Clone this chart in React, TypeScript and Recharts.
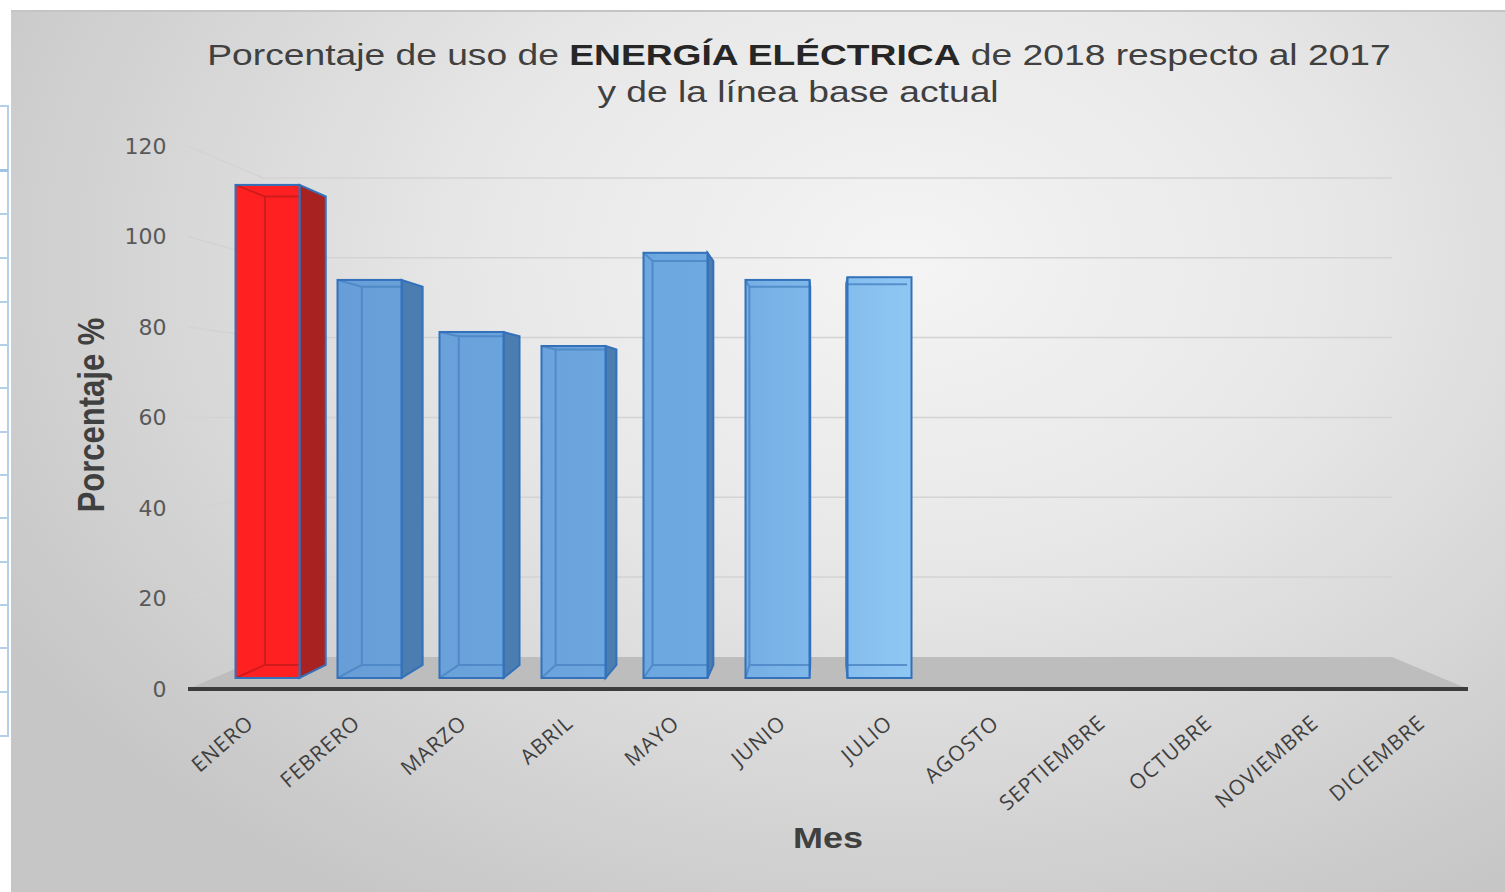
import React from "react";
import { BarChart, Bar, XAxis, YAxis, CartesianGrid, Cell } from "recharts";

const meses = [
  "ENERO",
  "FEBRERO",
  "MARZO",
  "ABRIL",
  "MAYO",
  "JUNIO",
  "JULIO",
  "AGOSTO",
  "SEPTIEMBRE",
  "OCTUBRE",
  "NOVIEMBRE",
  "DICIEMBRE",
];
const porcentaje = [111.4, 90.4, 78.9, 75.8, 96.4, 90.4, 91.0, null, null, null, null, null];
const yTicks = [0, 20, 40, 60, 80, 100, 120];

const data = meses.map((mes, i) => ({ mes, porcentaje: porcentaje[i] }));

// fake 3d: everything recedes towards one vanishing point
const VP_X = 824;
const VP_Y = 417;
const FLOOR_DEPTH = 0.118;
const BAR_DEPTH = 0.05;
const BAR_LIFT = 11;
const FRONT_SPREAD = 1.044;
const PLOT_BOTTOM = 689;

const ROJO = "#ff2121";
const AZUL = "url(#azulBarra)";

const back = (x: number, y: number, s: number) => [x + (VP_X - x) * s, y + (VP_Y - y) * s];

const GridLine = (props: any) => {
  const { x1, x2, y1 } = props;
  const fx1 = x1 - 28.5;
  const fx2 = x2 + 27.5;
  const [bx1, by] = back(fx1, y1, FLOOR_DEPTH);
  const [bx2] = back(fx2, y1, FLOOR_DEPTH);
  if (Math.abs(y1 - PLOT_BOTTOM) < 1) {
    return (
      <g key={props.key}>
        <polygon
          points={`${fx1},${y1} ${bx1},${by} ${bx2},${by} ${fx2},${y1}`}
          fill="#bdbdbd"
        />
        <line x1={fx1} y1={y1} x2={fx2} y2={y1} stroke="#3c3c3c" strokeWidth={4} />
      </g>
    );
  }
  return (
    <polyline
      key={props.key}
      points={`${fx1},${y1} ${bx1},${by} ${bx2},${by}`}
      fill="none"
      stroke="#d3d3d3"
      strokeWidth={1.5}
    />
  );
};

const Bar3D = (props: any) => {
  const { x, y, width, height, fill } = props;
  if (height == null || height <= BAR_LIFT) return null;
  const red = fill === ROJO;
  const xl = x;
  const xr = x + width;
  const yt = y;
  const yb = y + height - BAR_LIFT;
  const [bxl, byt] = back(xl, yt, BAR_DEPTH);
  const [bxr, byb] = back(xr, yb, BAR_DEPTH);
  const side = red ? "#a92222" : "#4b7db0";
  const inner = red ? "#c41a1a" : "#4a84c4";
  const edge = "#3371ba";
  return (
    <g>
      {bxr > xr && (
        <polygon
          points={`${xr},${yt} ${bxr},${byt} ${bxr},${byb} ${xr},${yb}`}
          fill={side}
          stroke={edge}
          strokeWidth={2}
        />
      )}
      {bxl < xl && (
        <polygon
          points={`${xl},${yt} ${bxl},${byt} ${bxl},${byb} ${xl},${yb}`}
          fill={side}
          stroke={edge}
          strokeWidth={2}
        />
      )}
      <rect x={xl} y={yt} width={width} height={yb - yt} fill={fill} />
      <g stroke={inner} strokeWidth={2} fill="none" opacity={0.8}>
        <polyline points={`${xl},${yt} ${bxl},${byt} ${bxl},${byb} ${xl},${yb}`} />
        <line x1={bxl} y1={byt} x2={Math.min(bxr, xr)} y2={byt} />
        <line x1={bxl} y1={byb} x2={Math.min(bxr, xr)} y2={byb} />
      </g>
      <rect x={xl} y={yt} width={width} height={yb - yt} fill="none" stroke={edge} strokeWidth={2} />
    </g>
  );
};

const MesTick = (props: any) => {
  const { x, y, payload } = props;
  const ax = VP_X + (x - VP_X) * FRONT_SPREAD + 12;
  const ay = y + 34;
  return (
    <text
      x={ax}
      y={ay}
      transform={`rotate(-41 ${ax} ${ay})`}
      textAnchor="end"
      fontFamily="'Open Sans', sans-serif"
      fontSize={21}
      letterSpacing={1}
      fill="#3f3f3f"
    >
      {payload.value}
    </text>
  );
};

const filas = [169, 213, 257, 301, 344, 387, 431, 474, 517, 561, 604, 647, 691, 735];

export default function App() {
  return (
    <div
      style={{
        position: "absolute",
        left: 0,
        top: 0,
        width: 1505,
        height: 892,
        background: "#fff",
        overflow: "hidden",
      }}
    >
      <div
        style={{
          position: "absolute",
          left: 0,
          top: 105,
          width: 7,
          height: 630,
          borderRight: "2px solid #b4cfea",
          borderTop: "2px solid #b4cfea",
        }}
      />
      {filas.map((f, i) => (
        <div
          key={f}
          style={{
            position: "absolute",
            left: 0,
            top: f,
            width: 8,
            height: i === 0 ? 3 : 2,
            background: i === 0 ? "#9dc3e6" : "#b4cfea",
          }}
        />
      ))}
      <div
        style={{
          position: "absolute",
          left: 11,
          top: 10,
          width: 1494,
          height: 882,
          borderTop: "2px solid #c4c4c4",
          background:
            "radial-gradient(ellipse 70% 85% at 60% 28%, #f4f4f4 0%, #e8e8e8 40%, #d6d6d6 72%, #c6c6c6 100%)",
        }}
      />
      <div style={{ position: "absolute", left: 0, top: 0 }}>
        <BarChart
          width={1505}
          height={892}
          data={data}
          margin={{ top: 146, right: 64.5, bottom: 0, left: 0 }}
        >
          <defs>
            <linearGradient id="azulBarra" gradientUnits="userSpaceOnUse" x1={330} y1={0} x2={915} y2={0}>
              <stop offset="0%" stopColor="#689ed7" />
              <stop offset="65%" stopColor="#6ea9e1" />
              <stop offset="100%" stopColor="#90c8f4" />
            </linearGradient>
          </defs>
          <CartesianGrid horizontal={GridLine} vertical={false} />
          <XAxis
            dataKey="mes"
            interval={0}
            height={203}
            axisLine={false}
            tickLine={false}
            tickSize={0}
            tick={<MesTick />}
          />
          <YAxis
            domain={[0, 120]}
            ticks={yTicks}
            width={216.5}
            axisLine={false}
            tickLine={false}
            tickSize={0}
            tickMargin={50}
            tick={{ fontSize: 22, fontFamily: "'DejaVu Sans', sans-serif", fill: "#595959" }}
          />
          <Bar dataKey="porcentaje" barSize={64} shape={Bar3D} isAnimationActive={false}>
            {data.map((d, i) => (
              <Cell key={d.mes} fill={i === 0 ? ROJO : AZUL} />
            ))}
          </Bar>
        </BarChart>
      </div>
      <div
        style={{
          position: "absolute",
          left: 799,
          top: 55,
          transform: "translate(-50%, -50%) scaleX(1.24)",
          whiteSpace: "nowrap",
          fontFamily: "'Liberation Sans', Arial, sans-serif",
          fontSize: 30,
          color: "#404040",
        }}
      >
        Porcentaje de uso de <b style={{ color: "#262626" }}>ENERGÍA ELÉCTRICA</b> de 2018 respecto al 2017
      </div>
      <div
        style={{
          position: "absolute",
          left: 798,
          top: 92,
          transform: "translate(-50%, -50%) scaleX(1.24)",
          whiteSpace: "nowrap",
          fontFamily: "'Liberation Sans', Arial, sans-serif",
          fontSize: 30,
          color: "#404040",
        }}
      >
        y de la línea base actual
      </div>
      <div
        style={{
          position: "absolute",
          left: 92,
          top: 415,
          transform: "translate(-50%, -50%) rotate(-90deg) scaleY(1.22)",
          whiteSpace: "nowrap",
          fontFamily: "'Liberation Sans', Arial, sans-serif",
          fontWeight: "bold",
          fontSize: 31,
          color: "#404040",
        }}
      >
        Porcentaje %
      </div>
      <div
        style={{
          position: "absolute",
          left: 828,
          top: 838,
          transform: "translate(-50%, -50%) scaleX(1.2)",
          whiteSpace: "nowrap",
          fontFamily: "'Liberation Sans', Arial, sans-serif",
          fontWeight: "bold",
          fontSize: 30,
          color: "#404040",
        }}
      >
        Mes
      </div>
    </div>
  );
}
